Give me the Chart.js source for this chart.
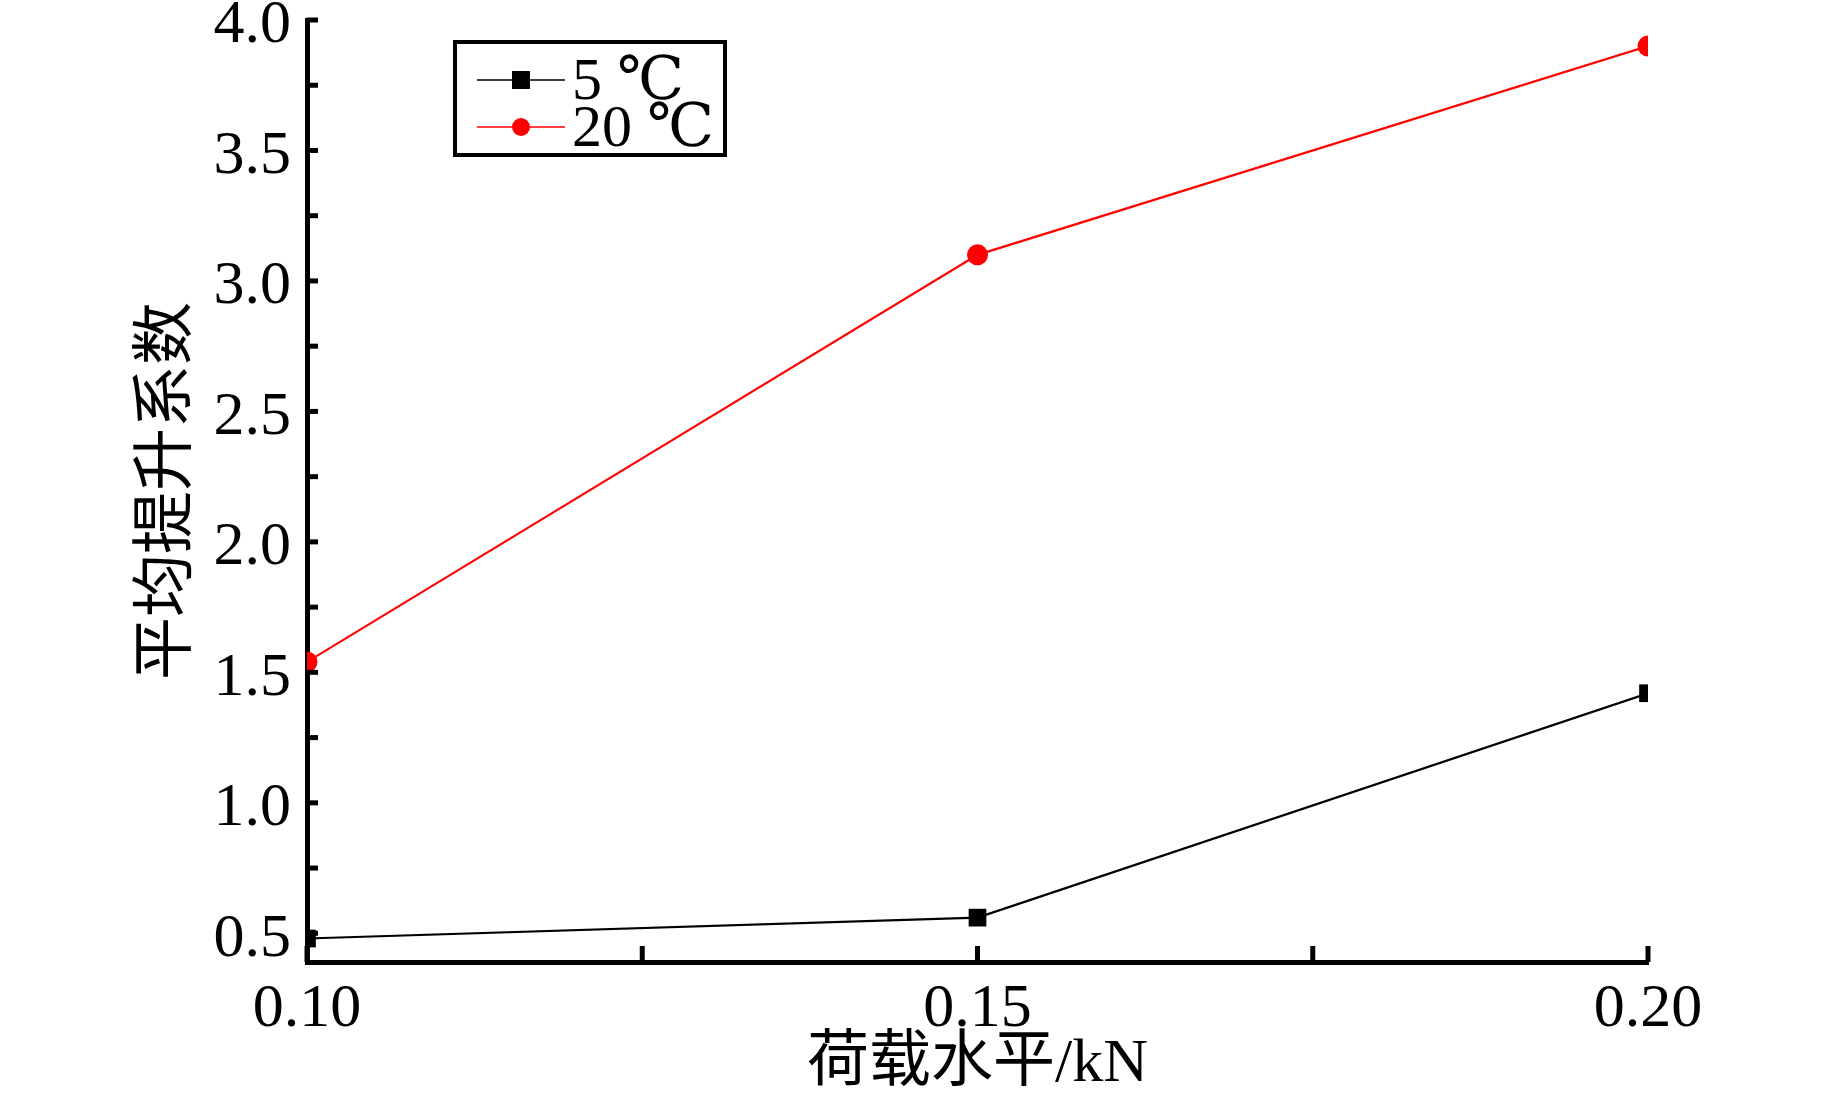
<!DOCTYPE html>
<html>
<head>
<meta charset="utf-8">
<script src="https://cdn.jsdelivr.net/npm/chart.js@4.4.1/dist/chart.umd.min.js"></script>
<style>
    body { margin: 0; background: #ffffff; }
</style>
</head>
<body>
<canvas id="myChart" width="1843" height="1099"></canvas>
<script>
const loadLevels = [0.10, 0.15, 0.20];
const coef5 = [0.48, 0.56, 1.42];
const coef20 = [1.54, 3.10, 3.90];
const seriesNames = ['5 ℃', '20 ℃'];

const xTickValues = [0.10, 0.125, 0.15, 0.175, 0.20];
const xTickLabels = ['0.10', '', '0.15', '', '0.20'];
const yTickValues = [0.5, 0.75, 1.0, 1.25, 1.5, 1.75, 2.0, 2.25, 2.5, 2.75, 3.0, 3.25, 3.5, 3.75, 4.0];
const yTickLabels = ['0.5', '', '1.0', '', '1.5', '', '2.0', '', '2.5', '', '3.0', '', '3.5', '', '4.0'];

const xTitle = '荷载水平/kN';
const yTitle = '平均提升系数';

const serif = '"Liberation Serif", "DejaVu Serif", "Noto Sans CJK SC", serif';

function toPoints(values) {
    return loadLevels.map((x, i) => ({x: x, y: values[i]}));
}

// inward tick marks on both axes
const innerTicks = {
    id: 'innerTicks',
    afterDraw(chart) {
        const ctx = chart.ctx;
        const area = chart.chartArea;
        const xScale = chart.scales.x;
        const yScale = chart.scales.y;
        ctx.save();
        ctx.strokeStyle = '#000';
        ctx.lineWidth = 5;
        xTickValues.forEach(v => {
            const px = xScale.getPixelForValue(v);
            ctx.beginPath();
            ctx.moveTo(px, area.bottom);
            ctx.lineTo(px, area.bottom - 16);
            ctx.stroke();
        });
        yTickValues.forEach(v => {
            const py = yScale.getPixelForValue(v);
            ctx.beginPath();
            ctx.moveTo(area.left, py);
            ctx.lineTo(area.left + 11, py);
            ctx.stroke();
        });
        ctx.restore();
    }
};

// boxed legend in the top left
const boxLegend = {
    id: 'boxLegend',
    afterDraw(chart) {
        const ctx = chart.ctx;
        const boxX = 455, boxY = 42, boxW = 270, boxH = 113;
        ctx.save();
        ctx.strokeStyle = '#000';
        ctx.lineWidth = 4;
        ctx.strokeRect(boxX, boxY, boxW, boxH);

        const rows = [80, 127];
        chart.data.datasets.forEach((ds, i) => {
            const y = rows[i];
            ctx.strokeStyle = ds.borderColor;
            ctx.lineWidth = 1.5;
            ctx.beginPath();
            ctx.moveTo(477, y);
            ctx.lineTo(565, y);
            ctx.stroke();

            ctx.fillStyle = ds.pointBackgroundColor;
            if (ds.pointStyle === 'rect') {
                ctx.fillRect(521 - 9, y - 9, 18, 18);
            } else {
                ctx.beginPath();
                ctx.arc(521, y, 9, 0, Math.PI * 2);
                ctx.fill();
            }

            ctx.fillStyle = '#000';
            ctx.font = '60px ' + serif;
            ctx.textAlign = 'left';
            ctx.textBaseline = 'alphabetic';
            ctx.fillText(ds.label, 572, y + 19);
        });
        ctx.restore();
    }
};

const chartCtx = document.getElementById('myChart');

new Chart(chartCtx, {
    type: 'line',
    data: {
        datasets: [
            {
                label: seriesNames[0],
                data: toPoints(coef5),
                borderColor: '#000000',
                backgroundColor: '#000000',
                pointBackgroundColor: '#000000',
                pointBorderColor: '#000000',
                pointStyle: 'rect',
                pointRadius: 12.5,
                pointBorderWidth: 0,
                borderWidth: 2.2,
                tension: 0
            },
            {
                label: seriesNames[1],
                data: toPoints(coef20),
                borderColor: '#ff0000',
                backgroundColor: '#ff0000',
                pointBackgroundColor: '#ff0000',
                pointBorderColor: '#ff0000',
                pointStyle: 'circle',
                pointRadius: 10.5,
                pointBorderWidth: 0,
                borderWidth: 2.2,
                tension: 0
            }
        ]
    },
    options: {
        responsive: false,
        animation: false,
        devicePixelRatio: 1,
        layout: {
            padding: {top: 20, right: 195, left: 0, bottom: 0}
        },
        plugins: {
            legend: {display: false},
            tooltip: {enabled: false}
        },
        scales: {
            x: {
                type: 'linear',
                min: 0.10,
                max: 0.20,
                afterBuildTicks: scale => {
                    scale.ticks = xTickValues.map(v => ({value: v}));
                },
                afterFit: scale => {
                    scale.height = 137;
                },
                grid: {display: false, drawTicks: false},
                border: {display: true, color: '#000', width: 5},
                ticks: {
                    autoSkip: false,
                    maxRotation: 0,
                    padding: 11,
                    color: '#000',
                    font: {family: serif, size: 62},
                    callback: (value, index) => xTickLabels[index]
                },
                title: {
                    display: true,
                    text: xTitle,
                    color: '#000',
                    font: {family: serif, size: 62, lineHeight: 1.0},
                    padding: {top: 0, bottom: 3}
                }
            },
            y: {
                type: 'linear',
                min: 0.39,
                max: 4.0,
                afterBuildTicks: scale => {
                    scale.ticks = yTickValues.map(v => ({value: v}));
                },
                afterFit: scale => {
                    scale.width = 307;
                    scale.paddingTop = 0;
                    scale.paddingBottom = 0;
                },
                grid: {display: false, drawTicks: false},
                border: {display: true, color: '#000', width: 5},
                ticks: {
                    autoSkip: false,
                    padding: 16,
                    labelOffset: 6,
                    color: '#000',
                    font: {family: serif, size: 62},
                    callback: (value, index) => yTickLabels[index]
                },
                title: {
                    display: true,
                    text: yTitle,
                    color: '#000',
                    font: {family: '"Noto Sans CJK SC", sans-serif', size: 63, lineHeight: 1.0},
                    padding: {top: 130, bottom: 0}
                }
            }
        }
    },
    plugins: [innerTicks, boxLegend]
});
</script>
</body>
</html>
